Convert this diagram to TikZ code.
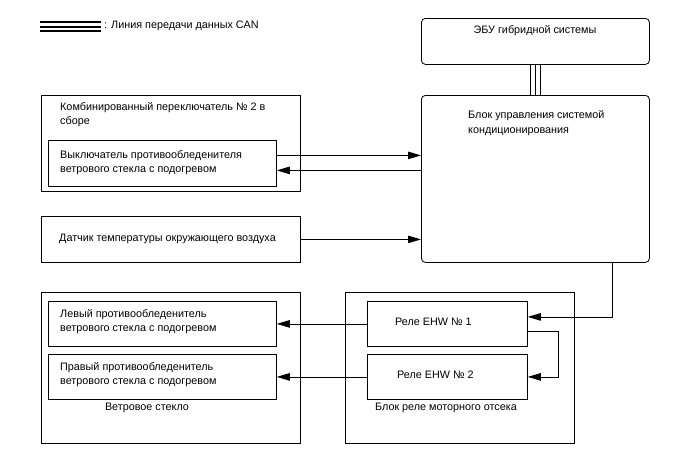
\documentclass[tikz,border=0pt]{standalone}
\usepackage{fontspec}
\setmainfont{Liberation Sans}
\usetikzlibrary{arrows.meta}

\begin{document}
\begin{tikzpicture}[
  x=1pt, y=-1pt,
  every node/.style={font=\fontsize{10.8pt}{14.5pt}\selectfont},
  box/.style={draw, line width=0.8pt, anchor=north west, inner sep=0pt},
  ecubox/.style={box, rounded corners=4pt},
  txt/.style={anchor=west, align=left, inner sep=0pt},
  arr/.style={-{Triangle[length=13pt,width=7.5pt]}, line width=0.8pt},
  can/.style={line width=1.2pt},
]
  \useasboundingbox (0,0) rectangle (688,463);

  % legend
  \foreach \ly in {22,26.5,31}
    \draw[line width=2pt] (40,\ly) -- (101,\ly);
  \node[txt] (legend) at (104,26) {: Линия передачи данных CAN};

  % ECUs
  \node[ecubox, minimum width=228pt, minimum height=46pt] (ecu) at (421,18) {};
  \node[inner sep=0pt] (ecu-t) at (535,31) {ЭБУ гибридной системы};
  \node[ecubox, minimum width=228pt, minimum height=167pt] (ac) at (421,95) {};
  \node[txt] (ac-t) at (468,123) {Блок управления системой\\кондиционирования};
  \foreach \dx in {-5,0,5}
    \draw[can] ([xshift=\dx pt]ecu.south) -- ([xshift=\dx pt]ecu.south |- ac.north);

  % combination switch
  \node[box, minimum width=259pt, minimum height=96pt] (combo) at (41,95) {};
  \node[txt] (combo-t) at (60,114.5) {Комбинированный переключатель № 2 в\\сборе};
  \node[box, minimum width=228pt, minimum height=46pt] (sw) at (48,140) {};
  \node[txt] (sw-t) at (60,162.5) {Выключатель противообледенителя\\ветрового стекла с подогревом};

  % ambient sensor
  \node[box, minimum width=259pt, minimum height=46pt] (amb) at (41,216) {};
  \node[txt] (amb-t) at (59,239) {Датчик температуры окружающего воздуха};

  % windshield
  \node[box, minimum width=259pt, minimum height=151pt] (ws) at (41,292) {};
  \node[box, minimum width=228pt, minimum height=45pt] (lh) at (48,301) {};
  \node[txt] (lh-t) at (60,321.5) {Левый противообледенитель\\ветрового стекла с подогревом};
  \node[box, minimum width=228pt, minimum height=45pt] (rh) at (48,354) {};
  \node[txt] (rh-t) at (60,374.5) {Правый противообледенитель\\ветрового стекла с подогревом};
  \node[inner sep=0pt] (ws-t) at (147,408) {Ветровое стекло};

  % relay block
  \node[box, minimum width=229pt, minimum height=151pt] (rb) at (345,292) {};
  \node[box, minimum width=160pt, minimum height=45pt] (r1) at (367,301) {};
  \node[txt] (r1-t) at (395,322) {Реле EHW № 1};
  \node[box, minimum width=160pt, minimum height=45pt] (r2) at (367,354) {};
  \node[txt] (r2-t) at (397,375) {Реле EHW № 2};
  \node[inner sep=0pt] (rb-t) at (446,408) {Блок реле моторного отсека};

  % signals
  \draw[arr] ([yshift=8pt]sw.east) -- ([yshift=8pt]sw.east -| ac.west);
  \draw[arr] ([yshift=-7pt]sw.east -| ac.west) -- ([yshift=-7pt]sw.east);
  \draw[arr] (amb.east) -- (amb.east -| ac.west);
  \draw[arr] ([xshift=-37pt]ac.south east) |- ([yshift=7pt]r1.east);
  \draw[arr] ([yshift=-7pt]r1.east) -- ++(31,0) |- (r2.east);
  \draw[arr] (r1.west) -- (r1.west -| lh.east);
  \draw[arr] (r2.west) -- (r2.west -| rh.east);
\end{tikzpicture}
\end{document}
